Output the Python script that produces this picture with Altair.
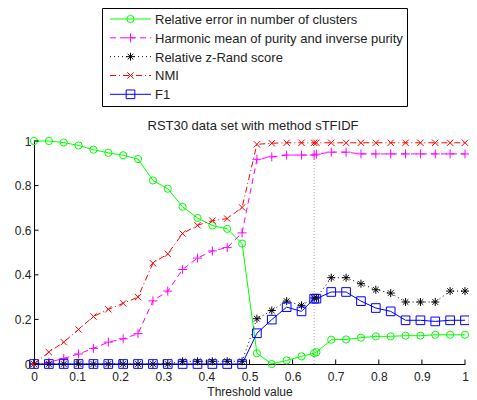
import altair as alt
import pandas as pd

# ---------------- data ----------------
threshold = [0.0, 0.0345, 0.069, 0.1034, 0.1379, 0.1724, 0.2069, 0.2414, 0.2759, 0.3103,
             0.3448, 0.3793, 0.4138, 0.4483, 0.4828, 0.5172, 0.5517, 0.5862, 0.6207, 0.65,
             0.6552, 0.6897, 0.7241, 0.7586, 0.7931, 0.8276, 0.8621, 0.8966, 0.931, 0.9655, 1.0]

rel_error = [1.0, 1.0, 0.993, 0.98, 0.961, 0.947, 0.936, 0.919, 0.823, 0.786,
             0.705, 0.655, 0.621, 0.606, 0.54, 0.048, 0.0, 0.016, 0.034, 0.049,
             0.053, 0.109, 0.11, 0.118, 0.124, 0.124, 0.127, 0.127, 0.131, 0.131, 0.131]

harmonic = [0.0, 0.008, 0.025, 0.045, 0.07, 0.098, 0.113, 0.136, 0.283, 0.327,
            0.424, 0.475, 0.507, 0.522, 0.588, 0.918, 0.929, 0.937, 0.937, 0.937,
            0.941, 0.95, 0.95, 0.942, 0.942, 0.942, 0.942, 0.942, 0.942, 0.942, 0.942]

zrand = [0.0, 0.0, 0.0, 0.0, 0.0, 0.0, 0.0, 0.0, 0.0, 0.0,
         0.012, 0.012, 0.012, 0.012, 0.012, 0.203, 0.24, 0.282, 0.263, 0.296,
         0.296, 0.387, 0.387, 0.36, 0.333, 0.318, 0.278, 0.278, 0.278, 0.327, 0.327]

nmi = [0.0, 0.053, 0.098, 0.155, 0.213, 0.245, 0.272, 0.3, 0.452, 0.494,
       0.585, 0.622, 0.643, 0.652, 0.702, 0.985, 0.99, 0.992, 0.992, 0.992,
       0.992, 0.992, 0.992, 0.992, 0.992, 0.992, 0.992, 0.992, 0.992, 0.992, 0.992]

f1 = [0.0, 0.0, 0.0, 0.0, 0.0, 0.0, 0.0, 0.0, 0.0, 0.0,
      0.0, 0.0, 0.0, 0.0, 0.0, 0.138, 0.199, 0.255, 0.236, 0.293,
      0.293, 0.323, 0.323, 0.282, 0.251, 0.236, 0.196, 0.196, 0.191, 0.196, 0.196]

series_names = ["Relative error in number of clusters",
                "Harmonic mean of purity and inverse purity",
                "Relative z-Rand score",
                "NMI",
                "F1"]
series_values = [rel_error, harmonic, zrand, nmi, f1]

x_ticks = [0, 0.1, 0.2, 0.3, 0.4, 0.5, 0.6, 0.7, 0.8, 0.9, 1]
y_ticks = [0, 0.2, 0.4, 0.6, 0.8, 1]
chosen_threshold = [0.65]
chart_title = "RST30 data set with method sTFIDF"

# ---------------- styles ----------------
W, H = 431, 223
FONT = "Liberation Sans"
TXT = "#222222"

PLUS = "M-1,0L1,0M0,-1L0,1"
CROSS = "M-1,-1L1,1M-1,1L1,-1"
STAR = "M-1,0L1,0M0,-1L0,1M-0.7,-0.7L0.7,0.7M-0.7,0.7L0.7,-0.7"

styles = [
    dict(color="#00ff00", dash=None, shape="circle", size=52),
    dict(color="#ff00ff", dash=[6, 4], shape=PLUS, size=81),
    dict(color="#000000", dash=[1, 3], shape=STAR, size=64),
    dict(color="#ff0000", dash=[6, 3, 1, 3], shape=CROSS, size=40),
    dict(color="#0000ff", dash=None, shape="square", size=75),
]

x_scale = alt.Scale(domain=[0, 1], nice=False, zero=False)
y_scale = alt.Scale(domain=[0, 1], nice=False, zero=False)


def xenc(field):
    return alt.X(field, scale=x_scale,
                 axis=alt.Axis(values=x_ticks, format="~g", title="Threshold value"))


def yenc(field):
    return alt.Y(field, scale=y_scale,
                 axis=alt.Axis(values=y_ticks, format="~g", title=None))


main_layers = []

# chosen threshold (dotted grey vertical line)
vdf = pd.DataFrame({"x": chosen_threshold, "y0": [0], "y1": [1]})
main_layers.append(
    alt.Chart(vdf).mark_rule(color="#aaaaaa", strokeDash=[1, 2], strokeWidth=1)
    .encode(x=xenc("x:Q"), y=yenc("y0:Q"), y2="y1:Q")
)

for name, vals, st in zip(series_names, series_values, styles):
    df = pd.DataFrame({"x": threshold, "y": vals})
    line_kw = dict(color=st["color"], strokeWidth=1)
    if st["dash"]:
        line_kw["strokeDash"] = st["dash"]
    main_layers.append(
        alt.Chart(df).mark_line(**line_kw).encode(x=xenc("x:Q"), y=yenc("y:Q"))
    )
    main_layers.append(
        alt.Chart(df).mark_point(shape=st["shape"], size=st["size"], filled=False,
                                 color=st["color"], strokeWidth=1, opacity=1)
        .encode(x=xenc("x:Q"), y=yenc("y:Q"))
    )

# inward ticks
xt = pd.DataFrame({"t": x_ticks})
yt = pd.DataFrame({"t": y_ticks})
main_layers.append(
    alt.Chart(xt).mark_rule(color="black", strokeWidth=1)
    .encode(x=xenc("t:Q"), y=alt.value(H), y2=alt.value(H - 4.5))
)
main_layers.append(
    alt.Chart(yt).mark_rule(color="black", strokeWidth=1)
    .encode(y=yenc("t:Q"), x=alt.value(0), x2=alt.value(4.5))
)

main = alt.layer(*main_layers)

# ---------------- legend ----------------
y_leg = alt.Y("series:N",
              scale=alt.Scale(type="point", domain=series_names, range=[-122, -46.7], padding=0),
              axis=None)

leg_layers = []
leg_layers.append(
    alt.Chart(pd.DataFrame({"a": [0]})).mark_rect(fill="white", stroke="black", strokeWidth=1)
    .encode(x=alt.value(68.5), x2=alt.value(373.5), y=alt.value(-132.5), y2=alt.value(-34.5))
)
for name, st in zip(series_names, styles):
    d = pd.DataFrame({"series": [name]})
    rkw = dict(color=st["color"], strokeWidth=1)
    if st["dash"]:
        rkw["strokeDash"] = st["dash"]
    leg_layers.append(
        alt.Chart(d).mark_rule(**rkw).encode(x=alt.value(76), x2=alt.value(117), y=y_leg)
    )
    leg_layers.append(
        alt.Chart(d).mark_point(shape=st["shape"], size=st["size"], filled=False,
                                color=st["color"], strokeWidth=1, opacity=1)
        .encode(x=alt.value(96.5), y=y_leg)
    )
leg_layers.append(
    alt.Chart(pd.DataFrame({"series": series_names}))
    .mark_text(align="left", baseline="middle", fontSize=13, font=FONT, color=TXT, dy=1)
    .encode(x=alt.value(121), y=y_leg, text="series:N")
)
leg_layers.append(
    alt.Chart(pd.DataFrame({"t": [chart_title]}))
    .mark_text(align="center", baseline="alphabetic", fontSize=13, font=FONT, color=TXT)
    .encode(x=alt.value(219), y=alt.value(-11), text="t:N")
)
legend = alt.layer(*leg_layers)

chart = (
    alt.layer(main, legend)
    .resolve_scale(y="independent")
    .properties(width=W, height=H,
                autosize=alt.AutoSizeParams(type="none"),
                padding={"left": 26, "top": 133, "right": 4, "bottom": 36})
    .configure_view(stroke=None)
    .configure_axis(labelFont=FONT, labelFontSize=12, labelColor=TXT,
                    titleFont=FONT, titleFontSize=12, titleColor=TXT, titleFontWeight="normal",
                    domainColor="black", domainWidth=1, ticks=False, tickSize=0,
                    grid=False, labelFlush=False, labelOverlap=False)
    .configure_axisX(labelPadding=7, titlePadding=4)
    .configure_axisY(labelPadding=3)
)

chart.save("out.html", embed_options={"renderer": "svg", "actions": False})
